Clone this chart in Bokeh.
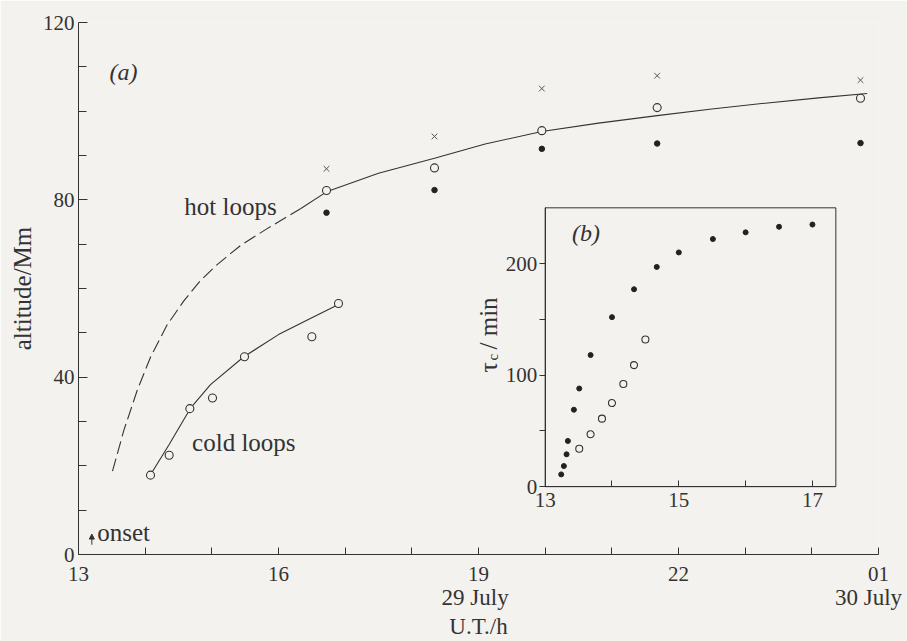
import math
from bokeh.plotting import figure
from bokeh.models import Range1d, LinearAxis, FixedTicker, Arrow, NormalHead
from bokeh.core.properties import value
from bokeh.embed import file_html
from bokeh.resources import INLINE

# ---------------- data: panel (a) ----------------
ut_ticks = [13, 16, 19, 22, 25]
ut_labels = ["13", "16", "19", "22", "01"]
ut_minor = [14, 15, 17, 18, 20, 21, 23, 24]
date_ticks = [18.95, 24.85]
date_labels = ["29 July", "30 July"]
alt_ticks = [0, 40, 80, 120]
alt_minor = [10, 20, 30, 50, 60, 70, 90, 100, 110]

hot_t = [16.72, 18.34, 19.95, 21.68, 24.73]
hot_cross = [87.0, 94.3, 105.1, 108.0, 107.0]
hot_open = [82.1, 87.2, 95.6, 100.8, 102.9]
hot_filled = [77.1, 82.2, 91.5, 92.7, 92.8]

cold_t = [14.08, 14.36, 14.67, 15.01, 15.49, 16.5, 16.9]
cold_alt = [17.9, 22.4, 32.9, 35.3, 44.6, 49.1, 56.6]

hot_fit_dashed_t = [13.51, 13.68, 13.88, 14.08, 14.33, 14.58, 14.83, 15.08, 15.43, 15.83, 16.33]
hot_fit_dashed_alt = [18.8, 28.0, 37.0, 44.5, 51.8, 57.2, 61.8, 65.4, 69.7, 73.5, 78.0]
hot_fit_solid_t = [16.33, 16.72, 17.5, 18.34, 19.1, 19.95, 20.8, 21.68, 22.5, 23.3, 24.1, 24.83]
hot_fit_solid_alt = [78.0, 81.8, 86.0, 89.4, 92.6, 95.4, 97.3, 99.0, 100.5, 101.8, 103.0, 104.0]

cold_fit_t = [14.08, 14.36, 14.68, 14.98, 15.48, 16.0, 16.5, 16.9]
cold_fit_alt = [18.0, 24.8, 33.0, 38.3, 44.6, 49.6, 53.4, 56.4]

onset_t = 13.2

# ---------------- data: panel (b) ----------------
tau_x_ticks = [13, 15, 17]
tau_x_minor = [14, 16]
tau_y_ticks = [0, 100, 200]
tau_y_minor = [50, 150]
tau_filled_t = [13.24, 13.28, 13.32, 13.34, 13.43, 13.51, 13.68, 14.0, 14.33, 14.67, 15.0, 15.51, 16.0, 16.5, 17.0]
tau_filled = [11, 18.5, 29, 41, 69, 88, 118, 152, 177, 197, 210, 222, 228, 233, 235]
tau_open_t = [13.51, 13.68, 13.85, 14.0, 14.17, 14.33, 14.5]
tau_open = [34, 47, 61, 75, 92, 109, 132]

# ---------------- style / layout ----------------
BG = "#f3f2ee"
INK = "#333333"
FONT = "Liberation Serif"

p = figure(width=907, height=641, output_backend="svg", toolbar_location=None,
           x_range=Range1d(13, 25), y_range=Range1d(0, 120),
           min_border_left=78, min_border_right=29, min_border_top=22, min_border_bottom=85,
           background_fill_color=BG, border_fill_color=BG, outline_line_color=None,
           x_axis_type=None, y_axis_type=None)


def style(ax, fs="21px", lfs="25px"):
    ax.axis_line_color = INK
    ax.axis_line_width = 1
    ax.major_tick_line_color = INK
    ax.minor_tick_line_color = INK
    ax.major_label_text_font = FONT
    ax.major_label_text_font_size = fs
    ax.major_label_text_color = INK
    ax.axis_label_text_font = FONT
    ax.axis_label_text_font_style = "normal"
    ax.axis_label_text_font_size = lfs
    ax.axis_label_text_color = INK


yax = LinearAxis(ticker=FixedTicker(ticks=alt_ticks, minor_ticks=alt_minor), axis_label="altitude/Mm")
style(yax)
yax.major_tick_in, yax.major_tick_out = 9, 0
yax.minor_tick_in, yax.minor_tick_out = 8, 0
yax.major_label_standoff = 4
yax.axis_label_standoff = 4
p.add_layout(yax, "left")

xax = LinearAxis(ticker=FixedTicker(ticks=ut_ticks, minor_ticks=ut_minor),
                 major_label_overrides=dict(zip(ut_ticks, ut_labels)))
style(xax)
xax.major_tick_in, xax.major_tick_out = 7, 0
xax.minor_tick_in, xax.minor_tick_out = 7, 0
xax.major_label_standoff = 12
p.add_layout(xax, "below")

dax = LinearAxis(ticker=FixedTicker(ticks=date_ticks, minor_ticks=[]),
                 major_label_overrides=dict(zip(date_ticks, date_labels)), axis_label="U.T./h")
style(dax, fs="23px", lfs="23px")
dax.axis_line_color = None
dax.major_tick_line_color = None
dax.minor_tick_line_color = None
dax.major_tick_in = dax.major_tick_out = 0
dax.minor_tick_in = dax.minor_tick_out = 0
dax.major_label_standoff = 1
dax.axis_label_standoff = 1
p.add_layout(dax, "below")

# panel (a) curves and points
p.line(hot_fit_dashed_t, hot_fit_dashed_alt, line_color=INK, line_width=1.1, line_dash="13 5")
p.line(hot_fit_solid_t, hot_fit_solid_alt, line_color=INK, line_width=1.1)
p.line(cold_fit_t, cold_fit_alt, line_color=INK, line_width=1.1)

p.scatter(hot_t, hot_cross, marker="x", size=8, line_color="#555555", line_width=1)
p.scatter(hot_t, hot_open, marker="circle", size=8, fill_color=BG, line_color=INK, line_width=1.1)
p.scatter(hot_t, hot_filled, marker="circle", size=5.5, fill_color="#222222", line_color="#222222")
p.scatter(cold_t, cold_alt, marker="circle", size=8, fill_color=BG, line_color=INK, line_width=1.1)

p.add_layout(Arrow(end=NormalHead(size=5, fill_color=INK, line_color=INK),
                   x_start=onset_t, y_start=2.2, x_end=onset_t, y_end=4.6,
                   line_color=INK, line_width=1))

txt = dict(text_font=value(FONT), text_color=INK, text_baseline="middle")
p.text(x=[13.675], y=[108.8], text=["(a)"], text_font_size="24px", text_font_style="italic",
       text_align="center", **txt)
p.text(x=[15.28], y=[78.4], text=["hot loops"], text_font_size="25px", text_align="center", **txt)
p.text(x=[15.48], y=[25.2], text=["cold loops"], text_font_size="25px", text_align="center", **txt)
p.text(x=[13.28], y=[4.9], text=["onset"], text_font_size="25px", text_align="left", **txt)

# ---------------- panel (b): inset drawn with its own ranges ----------------
INX = (13, 17.35)
INY = (0, 250)
BOX_L, BOX_R, BOX_B, BOX_T = 20.0, 24.36, 15.3, 78.2   # inset frame in panel (a) coordinates
kx = (INX[1] - INX[0]) / (BOX_R - BOX_L)
ky = (INY[1] - INY[0]) / (BOX_T - BOX_B)
p.extra_x_ranges = {"ix": Range1d(INX[0] + (13 - BOX_L) * kx, INX[0] + (25 - BOX_L) * kx)}
p.extra_y_ranges = {"iy": Range1d(INY[0] + (0 - BOX_B) * ky, INY[0] + (120 - BOX_B) * ky)}

p.quad(left=[INX[0]], right=[INX[1]], bottom=[INY[0]], top=[INY[1]],
       x_range_name="ix", y_range_name="iy", fill_color=BG, line_color=INK, line_width=1)

ixax = LinearAxis(x_range_name="ix", y_range_name="iy", fixed_location=INY[0], bounds=INX,
                  ticker=FixedTicker(ticks=tau_x_ticks, minor_ticks=tau_x_minor))
style(ixax)
ixax.major_tick_in, ixax.major_tick_out = 6, 0
ixax.minor_tick_in, ixax.minor_tick_out = 6, 0
ixax.major_label_standoff = 6
p.add_layout(ixax, "below")

iyax = LinearAxis(x_range_name="ix", y_range_name="iy", fixed_location=INX[0], bounds=INY,
                  ticker=FixedTicker(ticks=tau_y_ticks, minor_ticks=tau_y_minor))
style(iyax)
iyax.major_tick_in, iyax.major_tick_out = 0, 6
iyax.minor_tick_in, iyax.minor_tick_out = 0, 6
iyax.major_label_standoff = 2
p.add_layout(iyax, "left")

p.scatter(tau_filled_t, tau_filled, x_range_name="ix", y_range_name="iy", marker="circle",
          size=5, fill_color="#222222", line_color="#222222")
p.scatter(tau_open_t, tau_open, x_range_name="ix", y_range_name="iy", marker="circle",
          size=7, fill_color=BG, line_color=INK, line_width=1.1)

p.text(x=[13.61], y=[227], text=["(b)"], x_range_name="ix", y_range_name="iy",
       text_font_size="24px", text_font_style="italic", text_align="center", **txt)
rot = dict(text_font=value(FONT), text_color=INK, text_baseline="alphabetic", angle=math.pi / 2,
           x_range_name="ix", y_range_name="iy")
p.text(x=[13], y=[107], text=["τ"], x_offset=-57, text_font_size="26px", text_align="center", **rot)
p.text(x=[13], y=[116], text=["c"], x_offset=-52, text_font_size="15px", text_align="center", **rot)
p.text(x=[13], y=[123], text=["/ min"], x_offset=-57, text_font_size="25px", text_align="left", **rot)

open("out.html", "w").write(file_html(p, INLINE))
